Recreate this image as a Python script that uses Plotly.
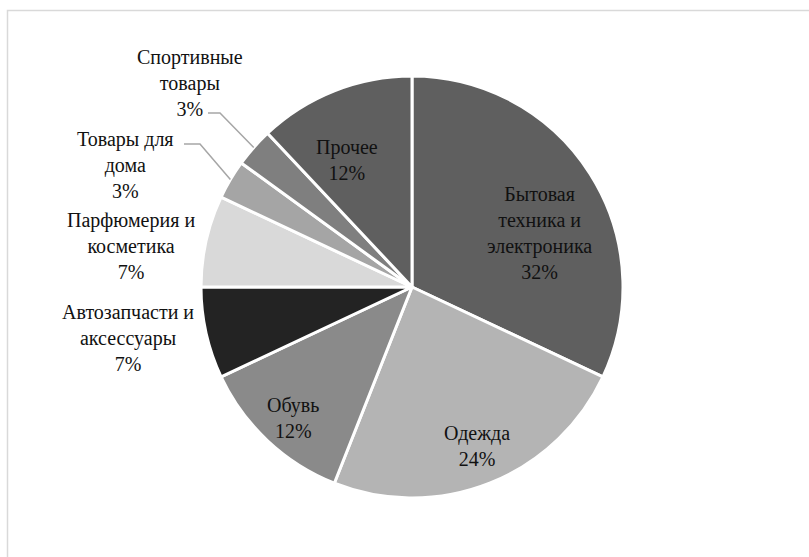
import math
import plotly.graph_objects as go

labels = ["Бытовая техника и электроника", "Одежда", "Обувь", "Автозапчасти и аксессуары",
          "Парфюмерия и косметика", "Товары для дома", "Спортивные товары", "Прочее"]
label_text = ["Бытовая<br>техника и<br>электроника", "Одежда", "Обувь", "Автозапчасти и<br>аксессуары",
              "Парфюмерия и<br>косметика", "Товары для<br>дома", "Спортивные<br>товары", "Прочее"]
values = [32, 24, 12, 7, 7, 3, 3, 12]
colors = ["#5f5f5f", "#b4b4b4", "#8a8a8a", "#232323", "#d9d9d9", "#a5a5a5", "#7f7f7f", "#5f5f5f"]

W, H = 809, 557
CX, CY, R = 412, 287, 211
FONT = "Liberation Serif"
FS = 20


def px(x):
    return x / W


def py(y):
    return 1 - y / H


fig = go.Figure(go.Pie(
    labels=labels,
    values=values,
    textinfo="none",
    sort=False,
    direction="clockwise",
    rotation=0,
    marker=dict(colors=colors, line=dict(color="white", width=3)),
    domain=dict(x=[px(CX - R), px(CX + R)], y=[py(CY + R), py(CY - R)]),
    showlegend=False,
    hoverinfo="label+percent",
))

total = sum(values)
cum = 0
mids = []
for v in values:
    mids.append((cum + v / 2) / total * 2 * math.pi)
    cum += v

# label block centres (pixels)
label_pos = [(539, 233), (477, 446), (293, 418), (128, 338),
             (131, 246), (125, 165), (190, 83), (347, 160)]
for i, (x, y) in enumerate(label_pos):
    fig.add_annotation(
        x=px(x), y=py(y), xref="paper", yref="paper",
        xanchor="center", yanchor="middle",
        text=f"{label_text[i]}<br>{round(values[i] / total * 100)}%",
        showarrow=False, align="center",
        font=dict(family=FONT, size=FS, color="#111111"),
    )

# leader lines for the two smallest slices
elbows = {5: (184, 200, 144), 6: (208, 220, 113)}
for i, (x0, x1, y0) in elbows.items():
    ex = CX + R * math.sin(mids[i])
    ey = CY - R * math.cos(mids[i])
    fig.add_shape(type="path",
                  path=f"M {px(x0)} {py(y0)} L {px(x1)} {py(y0)} L {px(ex)} {py(ey)}",
                  xref="paper", yref="paper",
                  line=dict(color="#a6a6a6", width=1.5))

# chart frame
fig.add_shape(type="rect", xref="paper", yref="paper",
              x0=px(7.5), x1=px(W + 5), y0=py(10.5), y1=py(H + 5),
              line=dict(color="#d9d9d9", width=1.5))

fig.update_layout(
    width=W, height=H,
    margin=dict(l=0, r=0, t=0, b=0),
    paper_bgcolor="white",
    plot_bgcolor="white",
    font=dict(family=FONT),
)

fig.write_html("out.html", config={"displayModeBar": False},
               post_script="document.body.style.margin='0';")
